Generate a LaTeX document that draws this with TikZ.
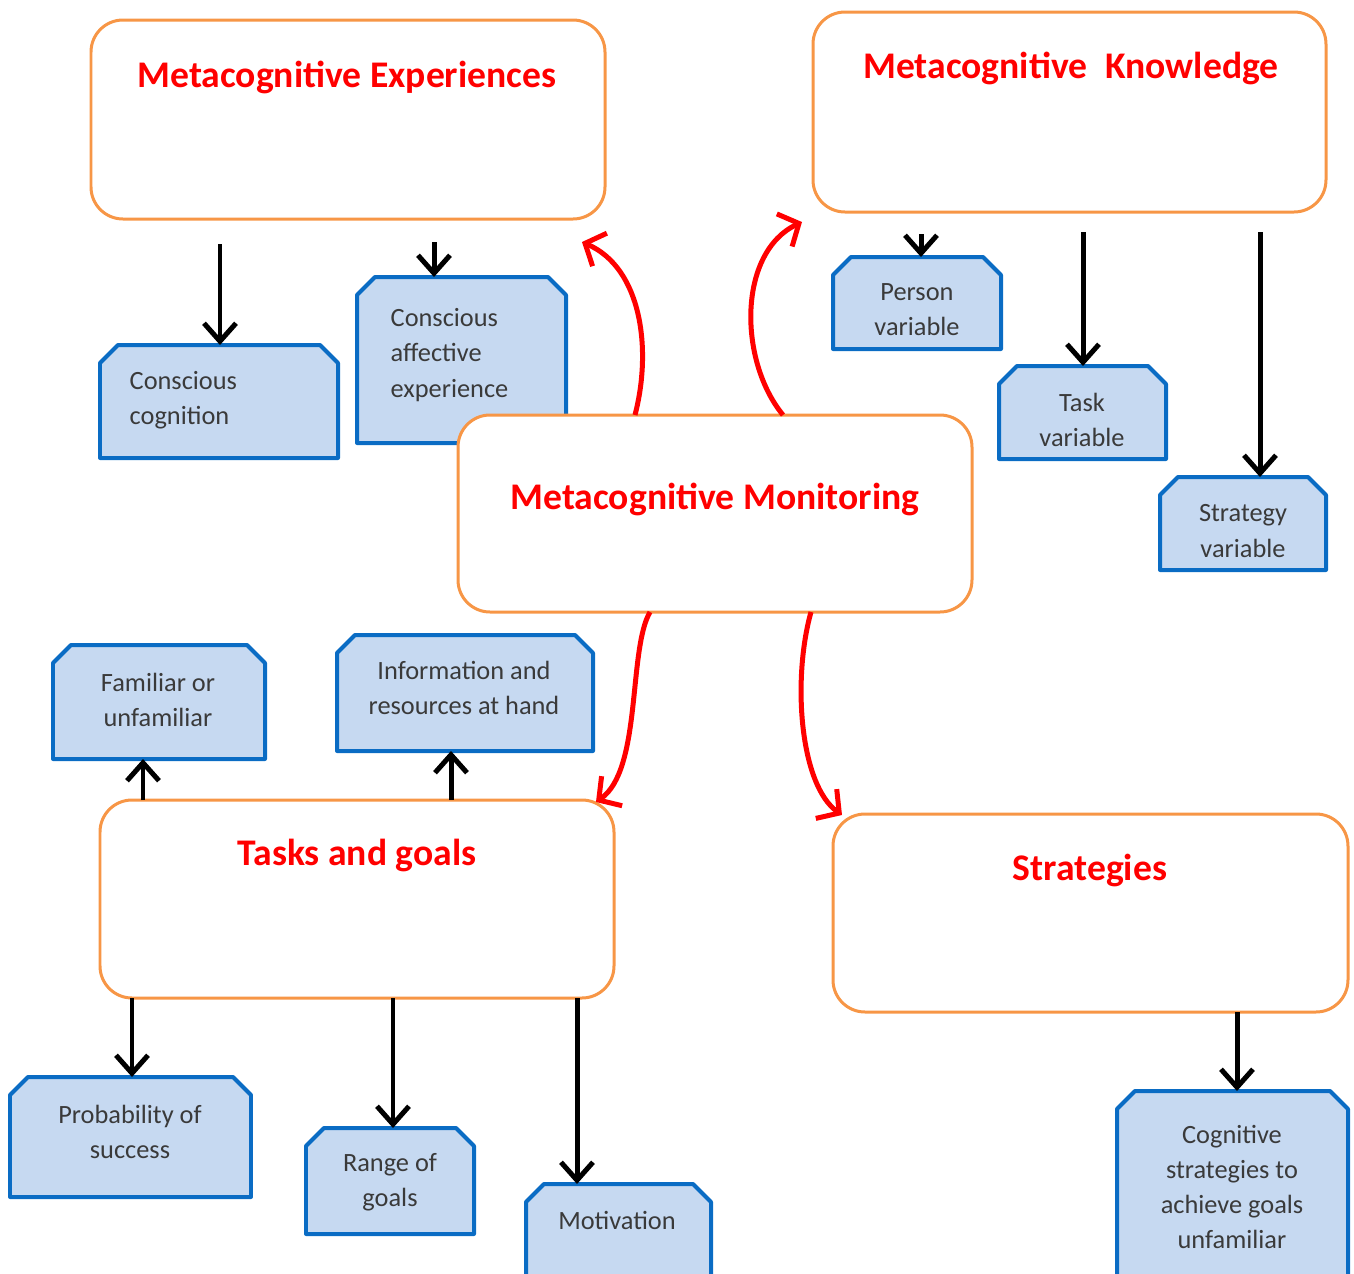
\documentclass[tikz,border=0pt]{standalone}
\usepackage{fontspec}
\setmainfont{Carlito}
\usetikzlibrary{arrows.meta,fit}
\definecolor{boxorange}{HTML}{F79646}
\definecolor{boxblue}{HTML}{0A6CC4}
\definecolor{fillblue}{HTML}{C6D9F1}
\definecolor{itemgray}{HTML}{3A3A3A}
\tikzset{
  mainbox/.style={rectangle, rounded corners=3.2mm, draw=boxorange, line width=0.3mm,
    fill=white, inner sep=0pt, outer sep=0pt},
  subframe/.style={rectangle, inner sep=0pt, outer sep=0pt},
  subline/.style={draw=boxblue, fill=fillblue, line width=0.4mm, line join=round},
  headtext/.style={text=red, font=\fontsize{10.7}{13}\selectfont\bfseries},
  itemtext/.style={text=itemgray, font=\fontsize{7.5}{10}\selectfont, align=center, inner sep=0pt},
  blackarrow/.style={draw=black, line width=0.5mm,
    -{Straight Barb[length=1.8mm,width=3.2mm]}},
  redarrow/.style={draw=red, line width=0.5mm,
    -{Straight Barb[length=1.6mm,width=3.6mm]}},
}
% box with its two upper corners cut off, drawn over a named frame node
\newcommand\chambox[1]{%
  \draw[subline] ([yshift=-1.8mm]#1.north west) -- ([xshift=1.8mm]#1.north west)
    -- ([xshift=-1.8mm]#1.north east) -- ([yshift=-1.8mm]#1.north east)
    -- (#1.south east) -- (#1.south west) -- cycle;}
\begin{document}
\begin{tikzpicture}[x=0.1mm, y=-0.1mm]
\useasboundingbox (0,0) rectangle (1354,1274);
\clip (0,0) rectangle (1354,1274);

% sub-item boxes
\node[subframe, fit={(100,345)(338,458)}] (cc) {};
\node[subframe, fit={(357,277)(566,443)}] (cae) {};
\node[subframe, fit={(833,257)(1001,349)}] (pv) {};
\node[subframe, fit={(999,366)(1166,459)}] (tv) {};
\node[subframe, fit={(1160,477)(1326,570)}] (sv) {};
\node[subframe, fit={(53,645)(265,759)}] (fu) {};
\node[subframe, fit={(337,635)(593,751)}] (ir) {};
\node[subframe, fit={(10,1077)(251,1197)}] (ps) {};
\node[subframe, fit={(306,1128)(474,1234)}] (rg) {};
\node[subframe, fit={(526,1184)(711,1310)}] (mo) {};
\node[subframe, fit={(1117,1091)(1348,1310)}] (cs) {};
\foreach \b in {cc,cae,pv,tv,sv,fu,ir,ps,rg,mo,cs} {\chambox{\b}}

% main category boxes
\node[mainbox, fit={(91,20)(605,219)}] (exp) {};
\node[mainbox, fit={(813,12)(1326,212)}] (kno) {};
\node[mainbox, fit={(458,415)(972,612)}] (mon) {};
\node[mainbox, fit={(100,800)(614,998)}] (tg) {};
\node[mainbox, fit={(833,814)(1348,1012)}] (str) {};

% headings
\node[headtext] (expt) at (347,77) {Metacognitive Experiences};
\node[headtext] (knot) at (1071,68) {Metacognitive\hspace{0.25em} Knowledge};
\node[headtext] (mont) at (715,499) {Metacognitive Monitoring};
\node[headtext] (tgt) at (357,855) {Tasks and goals};
\node[headtext] (strt) at (1090,870) {Strategies};

% item labels
\node[itemtext, align=left, anchor=west] (cct) at (129,400) {Conscious\\cognition};
\node[itemtext, align=left, anchor=west] (caet) at (390,355) {Conscious\\affective\\experience};
\node[itemtext] (pvt) at (917,310) {Person\\variable};
\node[itemtext] (tvt) at (1082,420) {Task\\variable};
\node[itemtext] (svt) at (1243,531) {Strategy\\variable};
\node[itemtext] (fut) at (158,700) {Familiar or\\unfamiliar};
\node[itemtext] (irt) at (464,688) {Information and\\resources at hand};
\node[itemtext] (pst) at (130,1132) {Probability of\\success};
\node[itemtext] (rgt) at (390,1182) {Range of\\goals};
\node[itemtext] (mot) at (617,1220) {Motivation};
\node[itemtext] (cst) at (1232,1187) {Cognitive\\strategies to\\achieve goals\\unfamiliar};

% start points of the black connectors
\coordinate (e1) at (220,244);
\coordinate (e2) at (434,242);
\coordinate (k1) at (921,234);
\coordinate (k2) at (1083,232);
\coordinate (k3) at (1260,232);
\coordinate (t1) at (143,800);
\coordinate (t2) at (451,800);
\coordinate (t3) at (132,998);
\coordinate (t4) at (393,998);
\coordinate (t5) at (577,998);
\coordinate (s1) at (1237,1012);

\draw[blackarrow] (e1) -- (cc.north -| e1);
\draw[blackarrow] (e2) -- (cae.north -| e2);
\draw[blackarrow] (k1) -- (pv.north -| k1);
\draw[blackarrow] (k2) -- (tv.north -| k2);
\draw[blackarrow] (k3) -- (sv.north -| k3);
\draw[blackarrow] (t1) -- (fu.south -| t1);
\draw[blackarrow] (t2) -- (ir.south -| t2);
\draw[blackarrow] (t3) -- (ps.north -| t3);
\draw[blackarrow] (t4) -- (rg.north -| t4);
\draw[blackarrow] (t5) -- (mo.north -| t5);
\draw[blackarrow] (s1) -- (cs.north -| s1);

% monitoring links
\coordinate (m1) at (635,415);
\coordinate (m2) at (783,415);
\coordinate (m3) at (650,612);
\coordinate (m4) at (811,612);
\coordinate (h1) at (582,242);
\coordinate (h2) at (802,222);
\coordinate (h3) at (596,802);
\coordinate (h4) at (842,815);
\draw[redarrow] (m1) .. controls (652,350) and (642,268) .. (h1);
\draw[redarrow] (m2) .. controls (738,360) and (738,252) .. (h2);
\draw[redarrow] (m3) .. controls (628,650) and (642,770) .. (h3);
\draw[redarrow] (m4) .. controls (792,680) and (800,785) .. (h4);
\end{tikzpicture}
\end{document}
